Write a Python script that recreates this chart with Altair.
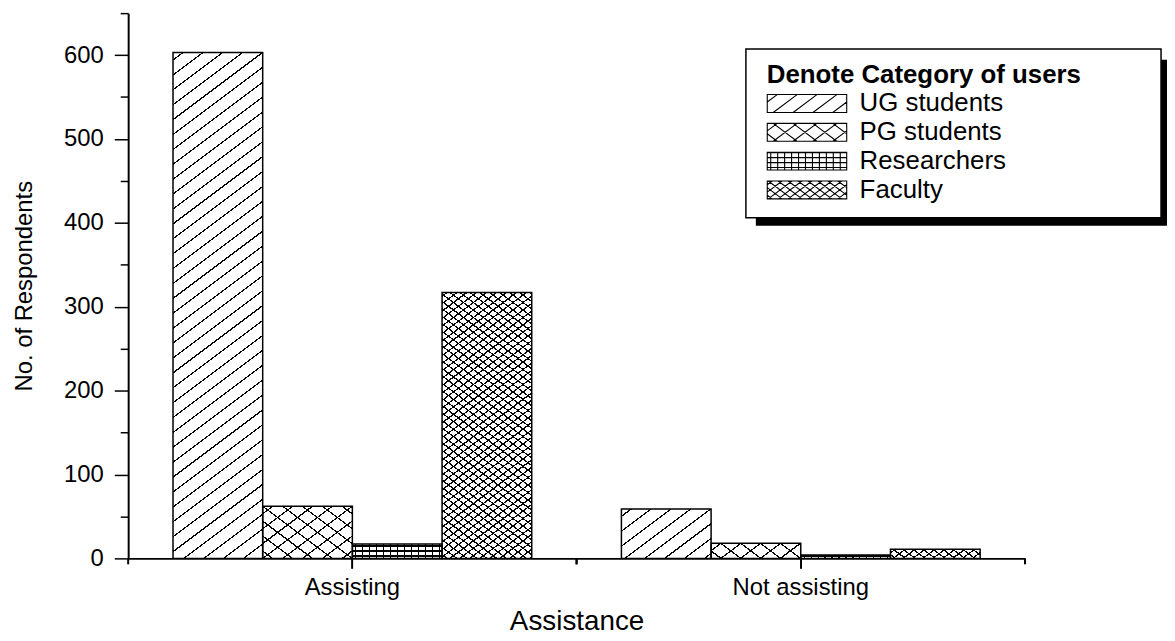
import math
import altair as alt

# ---------------- data ----------------
GROUPS = ["Assisting", "Not assisting"]
CATEGORIES = ["UG students", "PG students", "Researchers", "Faculty"]
VALUES_ASSISTING = [603, 62, 17, 317]
VALUES_NOT_ASSISTING = [59, 18, 4, 11]
Y_TICKS = [0, 50, 100, 150, 200, 250, 300, 350, 400, 450, 500, 550, 600, 650]
LEGEND_TITLE = "Denote Category of users"
X_TITLE = "Assistance"
Y_TITLE = "No. of Respondents"

# ---------------- layout / style ----------------
FONT = "Liberation Sans"
W, H = 903, 549
Y_MAX = 650
PAD_INNER, PAD_OUTER = 0.2, 0.1
STEP = W / (len(GROUPS) - PAD_INNER + 2 * PAD_OUTER)
BAR_W = STEP * (1 - PAD_INNER) / len(CATEGORIES)
LINE_PX = 1.25
FG = "black"
CLEAR = "rgba(0,0,0,0)"

# hatch line families: (nx, ny, period) for lines nx*X + ny*Y = c (pixels)
PATTERNS = {
    "UG students": [(3, 4, 60)],
    "PG students": [(3, 4, 60), (3, -4, 60)],
    "Researchers": [(1, 0, 7), (0, -1, 5)],
    "Faculty": [(3, 4, 30), (3, -4, 30)],
}


def r(v):
    return round(v, 5)


def gradient(fam, w, h, bg):
    nx, ny, P = fam
    cmax = abs(nx) * w + abs(ny) * h
    k = cmax / (nx * nx * w * w + ny * ny * h * h)
    a, b = nx * w * k, ny * h * k
    x1 = 0 if nx >= 0 else 1
    y1 = 0 if ny >= 0 else 1
    x2, y2 = x1 + a, y1 + b
    if x2 == 0:
        x2 = 1e-6
    dc = LINE_PX * math.hypot(nx, ny)
    stops = []
    c = P / 2
    while c - dc / 2 < cmax:
        lo = max(0.0, (c - dc / 2) / cmax)
        hi = min(1.0, (c + dc / 2) / cmax)
        stops += [
            {"offset": r(lo), "color": bg},
            {"offset": r(lo), "color": FG},
            {"offset": r(hi), "color": FG},
            {"offset": r(hi), "color": bg},
        ]
        c += P
    if not stops:
        stops = [{"offset": 0, "color": bg}, {"offset": 1, "color": bg}]
    return {"gradient": "linear", "x1": r(x1), "y1": r(y1), "x2": r(x2), "y2": r(y2), "stops": stops}


# legend symbol paths: unit scale = SYM_UNIT px, rectangle SYM_W x SYM_H + hatch lines
SYM_W, SYM_H = 80.0, 18.0
SYM_SIZE = 400  # sqrt -> 20px, so 1 unit = 10px
SYM_UNIT = math.sqrt(SYM_SIZE) / 2


def clip_line(nx, ny, c, x0, y0, w, h):
    pts = []
    eps = 1e-9
    if ny != 0:
        for X in (0.0, w):
            Y = y0 + (c - nx * (X - x0)) / ny
            if -eps <= Y <= h + eps:
                pts.append((X, Y))
    if nx != 0:
        for Y in (0.0, h):
            X = x0 + (c - ny * (Y - y0)) / nx
            if -eps <= X <= w + eps:
                pts.append((X, Y))
    if len(pts) < 2:
        return None
    p1 = pts[0]
    p2 = max(pts, key=lambda p: (p[0] - p1[0]) ** 2 + (p[1] - p1[1]) ** 2)
    if (p2[0] - p1[0]) ** 2 + (p2[1] - p1[1]) ** 2 < 1e-6:
        return None
    return p1, p2


def symbol_path(cat):
    s = SYM_UNIT
    ux = lambda X: r((X - SYM_W / 2) / s)
    uy = lambda Y: r((Y - SYM_H / 2) / s)
    parts = [
        f"M{ux(0)},{uy(0)}L{ux(SYM_W)},{uy(0)}L{ux(SYM_W)},{uy(SYM_H)}L{ux(0)},{uy(SYM_H)}Z"
    ]
    for nx, ny, P in PATTERNS[cat]:
        x0 = 0 if nx >= 0 else SYM_W
        y0 = 0 if ny >= 0 else SYM_H
        cmax = abs(nx) * SYM_W + abs(ny) * SYM_H
        c = P / 2
        while c < cmax:
            seg = clip_line(nx, ny, c, x0, y0, SYM_W, SYM_H)
            if seg:
                (ax, ay), (bx, by) = seg
                parts.append(f"M{ux(ax)},{uy(ay)}L{ux(bx)},{uy(by)}")
            c += P
    return "".join(parts)


SYMBOL_PATHS = [symbol_path(c) for c in CATEGORIES]

rows = []
for g, vals in zip(GROUPS, [VALUES_ASSISTING, VALUES_NOT_ASSISTING]):
    for cat, v in zip(CATEGORIES, vals):
        h = v * H / Y_MAX
        fams = PATTERNS[cat]
        g1 = gradient(fams[0], BAR_W, h, "white")
        g2 = gradient(fams[1], BAR_W, h, CLEAR) if len(fams) > 1 else CLEAR
        rows.append({"group": g, "cat": cat, "value": v, "g1": g1, "g2": g2})

data = alt.Data(values=rows)

X_SCALE = alt.Scale(paddingInner=PAD_INNER, paddingOuter=PAD_OUTER)
X_AXIS = alt.Axis(
    title=X_TITLE,
    labelAngle=0,
    tickSize=10,
    tickWidth=2,
    tickColor="black",
    domainWidth=2,
    domainColor="black",
    labelPadding=7,
    labelFontSize=24,
    labelColor="black",
    labelFont=FONT,
    titleFontSize=28,
    titleFontWeight="normal",
    titleColor="black",
    titleFont=FONT,
    titlePadding=9,
)
x_enc = alt.X("group:N", sort=GROUPS, scale=X_SCALE, axis=X_AXIS)
xo_enc = alt.XOffset("cat:N", sort=CATEGORIES, scale=alt.Scale(paddingInner=0, paddingOuter=0))
y_enc = alt.Y(
    "value:Q",
    stack=None,
    scale=alt.Scale(domain=[0, Y_MAX], nice=False, zero=True),
    axis=alt.Axis(
        title=Y_TITLE,
        values=Y_TICKS,
        labelExpr="datum.value % 100 === 0 ? datum.label : ''",
        tickSize={"condition": {"test": "datum.value % 100 === 0", "value": 14}, "value": 8},
        tickWidth=1.5,
        tickColor="black",
        domainWidth=2,
        domainColor="black",
        grid=False,
        labelPadding=11,
        labelFontSize=24,
        labelColor="black",
        labelFont=FONT,
        titleFontSize=24,
        titleFontWeight="normal",
        titleColor="black",
        titleFont=FONT,
        titlePadding=27,
    ),
)

base = alt.Chart(data).encode(x=x_enc, xOffset=xo_enc, y=y_enc)

bars_fill = base.mark_bar(strokeWidth=0).encode(fill=alt.Fill("g1:N", scale=None, legend=None))
bars_over = base.mark_bar(stroke="black", strokeWidth=1.5).encode(
    fill=alt.Fill("g2:N", scale=None, legend=None)
)
legend_layer = base.mark_point(opacity=0, color="black", filled=False).encode(
    shape=alt.Shape(
        "cat:N",
        sort=CATEGORIES,
        scale=alt.Scale(domain=CATEGORIES, range=SYMBOL_PATHS),
        legend=alt.Legend(
            title=LEGEND_TITLE,
            orient="none",
            legendX=643,
            legendY=49,
            padding=0,
            titleFontSize=26,
            titleFontWeight="bold",
            titleFont=FONT,
            titleColor="black",
            titleLimit=700,
            titlePadding=3,
            labelFontSize=26,
            labelFont=FONT,
            labelColor="black",
            labelLimit=400,
            labelOffset=40,
            symbolOffset=27.5,
            symbolSize=SYM_SIZE,
            symbolStrokeWidth=1.1,
            symbolStrokeColor="black",
            rowPadding=3,
        ),
    )
)

# small boundary ticks on the category axis (band edge +/- the outer padding)
EDGE = STEP * PAD_OUTER
group_data = alt.Data(values=[{"group": g} for g in GROUPS])
edge_ticks = [
    alt.Chart(group_data)
    .mark_rule(color="black", strokeWidth=2, xOffset=dx)
    .encode(
        x=alt.X("group:N", sort=GROUPS, bandPosition=bp, scale=X_SCALE, axis=X_AXIS),
        y=alt.value(H),
        y2=alt.value(H + 6),
    )
    for bp, dx in ((0, -EDGE), (1, EDGE))
]

one = alt.Data(values=[{"k": 1}])
shadow = alt.Chart(one).mark_rect(color="black").encode(
    x=alt.value(632), x2=alt.value(1046), y=alt.value(47), y2=alt.value(214)
)
box = alt.Chart(one).mark_rect(fill="white", stroke="black", strokeWidth=1.5).encode(
    x=alt.value(622), x2=alt.value(1040), y=alt.value(36), y2=alt.value(206)
)

chart = (
    alt.layer(shadow, box, bars_fill, bars_over, legend_layer, *edge_ticks)
    .properties(width=W, height=H, padding={"left": 4, "top": 2, "right": 0, "bottom": 0})
    .configure(font=FONT, background="white")
    .configure_view(stroke=None)
)

chart.save("out.html", embed_options={"renderer": "svg", "actions": False})
